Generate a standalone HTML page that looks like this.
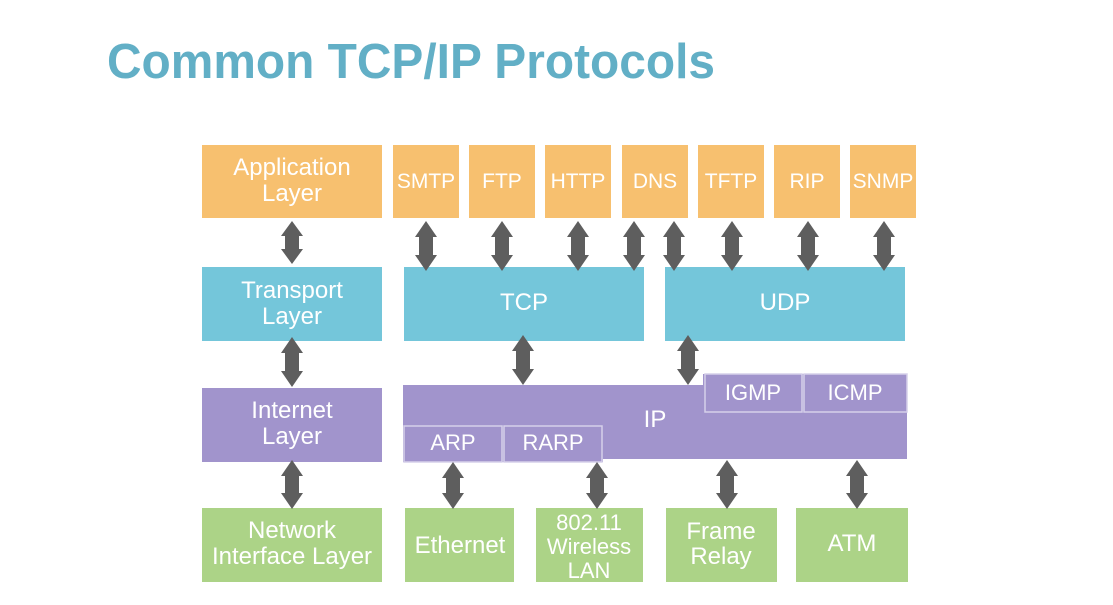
<!DOCTYPE html>
<html><head><meta charset="utf-8"><style>
html,body{margin:0;padding:0;background:#fff;}
svg{display:block;}
text{font-family:"Liberation Sans",sans-serif;fill:#fff;text-anchor:middle;}
</style></head><body>
<svg width="1113" height="605" viewBox="0 0 1113 605" xmlns="http://www.w3.org/2000/svg">
<text x="107" y="78" style="text-anchor:start;fill:#62afc6;font-weight:bold;font-size:49px" textLength="608" lengthAdjust="spacingAndGlyphs">Common TCP/IP Protocols</text>
<g fill="#f7c06f">
<rect x="202" y="145" width="180" height="73"/>
<rect x="393" y="145" width="66" height="73"/>
<rect x="469" y="145" width="66" height="73"/>
<rect x="545" y="145" width="66" height="73"/>
<rect x="622" y="145" width="66" height="73"/>
<rect x="698" y="145" width="66" height="73"/>
<rect x="774" y="145" width="66" height="73"/>
<rect x="850" y="145" width="66" height="73"/>
</g>
<g fill="#74c6da">
<rect x="202" y="267" width="180" height="74"/>
<rect x="404" y="267" width="240" height="74"/>
<rect x="665" y="267" width="240" height="74"/>
</g>
<g fill="#a194cc">
<rect x="202" y="388" width="180" height="74"/>
<path d="M403 385 H703 V374 H907 V459 H603 V462 H403 Z"/>
</g>
<g fill="#a194cc" stroke="#d6d0ea" stroke-width="1.5">
<rect x="705" y="374" width="97" height="38"/>
<rect x="804" y="374" width="103" height="38"/>
<rect x="404" y="426" width="98" height="36"/>
<rect x="504" y="426" width="98" height="36"/>
</g>
<g fill="#acd387">
<rect x="202" y="508" width="180" height="74"/>
<rect x="405" y="508" width="109" height="74"/>
<rect x="536" y="508" width="107" height="74"/>
<rect x="666" y="508" width="111" height="74"/>
<rect x="796" y="508" width="112" height="74"/>
</g>
<g fill="#5e5e5e">
<path d="M292 221 l11 15 h-4 v13 h4 l-11 15 l-11 -15 h4 v-13 h-4 z"/>
<path d="M426 221 l11 16 h-4 v18 h4 l-11 16 l-11 -16 h4 v-18 h-4 z"/>
<path d="M502 221 l11 16 h-4 v18 h4 l-11 16 l-11 -16 h4 v-18 h-4 z"/>
<path d="M578 221 l11 16 h-4 v18 h4 l-11 16 l-11 -16 h4 v-18 h-4 z"/>
<path d="M634 221 l11 16 h-4 v18 h4 l-11 16 l-11 -16 h4 v-18 h-4 z"/>
<path d="M674 221 l11 16 h-4 v18 h4 l-11 16 l-11 -16 h4 v-18 h-4 z"/>
<path d="M732 221 l11 16 h-4 v18 h4 l-11 16 l-11 -16 h4 v-18 h-4 z"/>
<path d="M808 221 l11 16 h-4 v18 h4 l-11 16 l-11 -16 h4 v-18 h-4 z"/>
<path d="M884 221 l11 16 h-4 v18 h4 l-11 16 l-11 -16 h4 v-18 h-4 z"/>
<path d="M292 337 l11 16 h-4 v18 h4 l-11 16 l-11 -16 h4 v-18 h-4 z"/>
<path d="M523 335 l11 16 h-4 v18 h4 l-11 16 l-11 -16 h4 v-18 h-4 z"/>
<path d="M688 335 l11 16 h-4 v18 h4 l-11 16 l-11 -16 h4 v-18 h-4 z"/>
<path d="M292 460 l11 16 h-4 v17 h4 l-11 16 l-11 -16 h4 v-17 h-4 z"/>
<path d="M453 462 l11 16 h-4 v15 h4 l-11 16 l-11 -16 h4 v-15 h-4 z"/>
<path d="M597 462 l11 16 h-4 v15 h4 l-11 16 l-11 -16 h4 v-15 h-4 z"/>
<path d="M727 460 l11 16 h-4 v17 h4 l-11 16 l-11 -16 h4 v-17 h-4 z"/>
<path d="M857 460 l11 16 h-4 v17 h4 l-11 16 l-11 -16 h4 v-17 h-4 z"/>
</g>
<g style="font-size:24px">
<text x="292" y="175">Application</text>
<text x="292" y="201">Layer</text>
<text x="426" y="188" style="font-size:21px">SMTP</text>
<text x="502" y="188" style="font-size:21px">FTP</text>
<text x="578" y="188" style="font-size:21px">HTTP</text>
<text x="655" y="188" style="font-size:21px">DNS</text>
<text x="731" y="188" style="font-size:21px">TFTP</text>
<text x="807" y="188" style="font-size:21px">RIP</text>
<text x="883" y="188" style="font-size:21px">SNMP</text>
<text x="292" y="298">Transport</text>
<text x="292" y="324">Layer</text>
<text x="524" y="310">TCP</text>
<text x="785" y="310">UDP</text>
<text x="292" y="418">Internet</text>
<text x="292" y="444">Layer</text>
<text x="655" y="427">IP</text>
<text x="753" y="400" style="font-size:22px">IGMP</text>
<text x="855" y="400" style="font-size:22px">ICMP</text>
<text x="453" y="450" style="font-size:22px">ARP</text>
<text x="553" y="450" style="font-size:22px">RARP</text>
<text x="292" y="538">Network</text>
<text x="292" y="564">Interface Layer</text>
<text x="460" y="553">Ethernet</text>
<text x="589" y="530" style="font-size:22px">802.11</text>
<text x="589" y="554" style="font-size:22px">Wireless</text>
<text x="589" y="578" style="font-size:22px">LAN</text>
<text x="721" y="539">Frame</text>
<text x="721" y="564">Relay</text>
<text x="852" y="551">ATM</text>
</g>
</svg>
</body></html>
